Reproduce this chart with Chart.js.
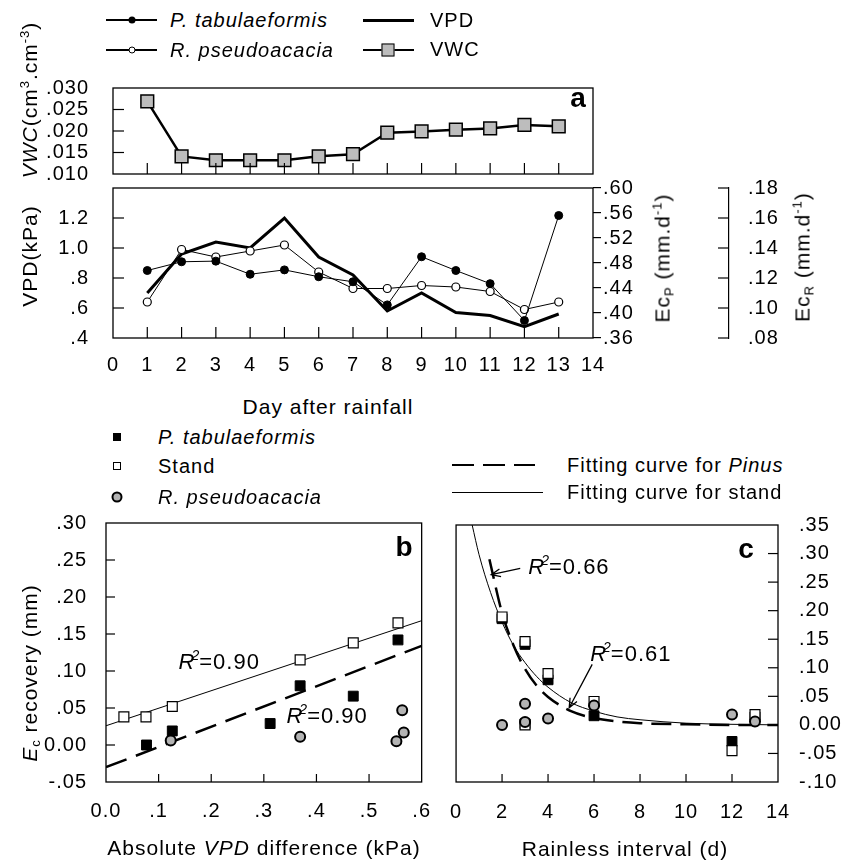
<!DOCTYPE html>
<html>
<head>
<meta charset="utf-8">
<title>Ec recovery after rainfall</title>
<script src="https://cdn.jsdelivr.net/npm/chart.js@4.4.1/dist/chart.umd.min.js"></script>
<style>
  body { margin: 0; background: #fff; }
  #fig { position: relative; width: 856px; height: 862px; overflow: hidden;
         font-family: "Liberation Sans", Arial, Helvetica, sans-serif; color: #000; letter-spacing: 1px; }
  #fig canvas { position: absolute; }
  .t { position: absolute; white-space: nowrap; font-size: 20px; line-height: 1; }
  .l { transform: translateY(-50%); }
  .c { transform: translate(-50%, -50%); }
  .v { transform: translate(-50%, -50%) rotate(-90deg); font-size: 21px; }
  .big { font-size: 21px; }
  .let { font-size: 28px; font-weight: bold; letter-spacing: 0; }
  sup { font-size: 0.62em; vertical-align: 0.6em; line-height: 0; }
  sub { font-size: 0.62em; vertical-align: -0.3em; line-height: 0; }
  .ln { position: absolute; }
  .mk { position: absolute; box-sizing: border-box; transform: translate(-50%, -50%); border: 0 solid #000; }
</style>
</head>
<body>
<div id="fig">
  <canvas id="cVwc" width="856" height="142" style="left:0;top:60px;width:856px;height:142px"></canvas>
  <canvas id="cVpd" width="856" height="220" style="left:0;top:160px;width:856px;height:220px"></canvas>
  <canvas id="cB" width="440" height="362" style="left:0;top:500px;width:440px;height:362px"></canvas>
  <canvas id="cC" width="416" height="362" style="left:440px;top:500px;width:416px;height:362px"></canvas>
</div>
<script>
// ---- panel a: days after rainfall
var days = [1, 2, 3, 4, 5, 6, 7, 8, 9, 10, 11, 12, 13];
var vwc = [.0269, .0141, .0132, .0132, .0132, .0141, .0146, .0196, .0199, .0203, .0206, .0214, .0211];
var vpd = [.70, .96, 1.04, 1.00, 1.20, .94, .82, .58, .70, .57, .55, .475, .56];
var ecP = [.468, .482, .483, .462, .469, .458, .450, .413, .490, .468, .447, .388, .556];
var ecR = [.104, .139, .134, .138, .142, .124, .113, .113, .115, .114, .111, .099, .104];

// ---- panel b: Ec recovery vs absolute VPD difference
var bPinusX = [.077, .126, .312, .369, .470, .555];
var bPinusY = [.000, .019, .029, .080, .066, .142];
var bStandX = [.034, .076, .126, .369, .470, .555];
var bStandY = [.038, .038, .052, .115, .138, .165];
var bRobX = [.123, .369, .552, .563, .566];
var bRobY = [.006, .011, .005, .047, .017];
var bFitX = [0, .6];
var bFitStand = [.026, .168];
var bFitPinus = [-.030, .134];

// ---- panel c: Ec recovery vs rainless interval
var cStandX = [2, 3, 3, 4, 6, 12, 13];
var cStandY = [.189, .146, .000, .090, .041, -.045, .018];
var cPinusX = [2, 3, 3, 4, 6, 12, 13];
var cPinusY = [.186, .141, .002, .079, .016, -.029, .014];
var cRobX = [2, 3, 3, 4, 6, 12, 13];
var cRobY = [.000, .037, .005, .011, .034, .018, .006];
var cFitStandX = [0.7, 1, 1.5, 2, 2.5, 3, 3.5, 4, 5, 6, 7, 8, 10, 12, 14];
var cFitStandY = [.350, .298, .232, .180, .139, .109, .085, .066, .039, .024, .014, .009, .003, .001, .000];
var cFitPinusX = [1.45, 2, 2.5, 3, 3.5, 4, 5, 6, 7, 8, 10, 12, 14];
var cFitPinusY = [.290, .196, .139, .098, .069, .049, .024, .012, .006, .003, .001, .000, .000];

// R2 labels (data units, text baseline) and arrows
var bNoteX = [.138, .343], bNoteY = [.103, .030], bNoteText = ['=0.90', '=0.90'];
var cNoteX = [3.14, 5.83], cNoteY = [.265, .112], cNoteText = ['=0.66', '=0.61'];
var cArrowFromX = [2.79, 5.92], cArrowFromY = [.274, .106];
var cArrowToX = [1.53, 4.92], cArrowToY = [.263, .030];

var FAM = '"Liberation Sans", Arial, Helvetica, sans-serif';
Chart.defaults.font.family = FAM;
Chart.defaults.font.size = 20;
Chart.defaults.color = '#000';
Chart.defaults.animation = false;
Chart.defaults.responsive = false;
Chart.defaults.plugins.legend.display = false;
Chart.defaults.plugins.tooltip.enabled = false;

function pts(xs, ys) {
  return xs.map(function (x, i) { return { x: x, y: ys[i] }; });
}

function lab(d, hideAbove) {
  return function (v) {
    if (hideAbove !== undefined && v > hideAbove) return '';
    if (Math.abs(v) < 1e-9) return (0).toFixed(d);
    var s = v.toFixed(d);
    return Math.abs(v) < 1 ? s.replace('0.', '.') : s;
  };
}

function axis(min, max, step, fmt, pad, size, extra) {
  var s = {
    type: 'linear', min: min, max: max,
    grid: { display: false },
    border: { display: false },
    ticks: { stepSize: step, callback: fmt, autoSkip: false, maxRotation: 0, padding: pad },
    afterFit: function (sc) {
      if (sc.isHorizontal()) sc.height = size; else sc.width = size;
    }
  };
  for (var k in extra) s[k] = extra[k];
  return s;
}

var spacing = {
  id: 'spacing',
  beforeUpdate: function (c) { c.ctx.letterSpacing = '1px'; },
  beforeDraw: function (c) { c.ctx.letterSpacing = '1px'; }
};

var frame = {
  id: 'frame',
  afterDatasetsDraw: function (chart) {
    var a = chart.chartArea, ctx = chart.ctx;
    ctx.save();
    ctx.strokeStyle = '#000';
    ctx.lineWidth = 1.3;
    ctx.strokeRect(a.left, a.top, a.right - a.left, a.bottom - a.top);
    ctx.restore();
  }
};

// short tick marks drawn inside the frame (or beside a free axis line)
var tickMarks = {
  id: 'tickMarks',
  afterDatasetsDraw: function (chart, args, opts) {
    var ctx = chart.ctx, a = chart.chartArea;
    ctx.save();
    ctx.strokeStyle = '#000';
    ctx.lineWidth = 1.2;
    (opts.marks || []).forEach(function (m) {
      var s = chart.scales[m.id];
      var hor = s.isHorizontal();
      var base = m.edge === 'bottom' ? a.bottom : m.edge === 'left' ? a.left : m.edge === 'right' ? a.right : s.left;
      s.ticks.forEach(function (t) {
        var p = s.getPixelForValue(t.value);
        var lo = hor ? a.left : a.top, hi = hor ? a.right : a.bottom;
        if (!m.ends && (Math.abs(p - lo) < 1 || Math.abs(p - hi) < 1)) return;
        ctx.beginPath();
        if (hor) { ctx.moveTo(p, base); ctx.lineTo(p, base + m.len); }
        else { ctx.moveTo(base, p); ctx.lineTo(base + m.len, p); }
        ctx.stroke();
      });
    });
    ctx.restore();
  }
};

function drawR2(ctx, x, y, rest) {
  ctx.save();
  ctx.fillStyle = '#000';
  ctx.textAlign = 'left';
  ctx.textBaseline = 'alphabetic';
  ctx.letterSpacing = '1px';
  ctx.font = 'italic 22px ' + FAM;
  ctx.fillText('R', x, y);
  var w = ctx.measureText('R').width;
  ctx.font = 'italic 14px ' + FAM;
  ctx.fillText('2', x + w - 4, y - 9);
  var w2 = ctx.measureText('2').width;
  ctx.font = '22px ' + FAM;
  ctx.fillText(rest, x + w + w2 - 5, y);
  ctx.restore();
}

var notes = {
  id: 'notes',
  afterDatasetsDraw: function (chart, args, opts) {
    var ctx = chart.ctx, sx = chart.scales.x, sy = chart.scales.y;
    var n = opts.x || [];
    for (var i = 0; i < n.length; i++) {
      drawR2(ctx, sx.getPixelForValue(opts.x[i]), sy.getPixelForValue(opts.y[i]), opts.text[i]);
    }
    var f = opts.fromX || [];
    ctx.save();
    ctx.strokeStyle = '#000';
    ctx.lineWidth = 1.3;
    for (var j = 0; j < f.length; j++) {
      var x1 = sx.getPixelForValue(opts.fromX[j]), y1 = sy.getPixelForValue(opts.fromY[j]);
      var x2 = sx.getPixelForValue(opts.toX[j]), y2 = sy.getPixelForValue(opts.toY[j]);
      var ang = Math.atan2(y2 - y1, x2 - x1), h = 10;
      ctx.beginPath();
      ctx.moveTo(x1, y1); ctx.lineTo(x2, y2);
      ctx.moveTo(x2 - h * Math.cos(ang - .4), y2 - h * Math.sin(ang - .4));
      ctx.lineTo(x2, y2);
      ctx.lineTo(x2 - h * Math.cos(ang + .4), y2 - h * Math.sin(ang + .4));
      ctx.stroke();
    }
    ctx.restore();
  }
};

Chart.register(spacing, frame, tickMarks, notes);

// ---- panel a, top: VWC
new Chart(document.getElementById('cVwc'), {
  type: 'scatter',
  data: {
    datasets: [{
      data: pts(days, vwc), showLine: true, borderColor: '#000', borderWidth: 2.5,
      pointStyle: 'rect', pointRadius: 9, pointBackgroundColor: '#bdbdbd',
      pointBorderColor: '#000', pointBorderWidth: 1.5
    }]
  },
  options: {
    layout: { padding: { top: 17, right: 263, left: 0, bottom: 0 } },
    scales: {
      x: axis(0, 14, 1, lab(0), 0, 14, { ticks: { display: false, stepSize: 1 } }),
      y: axis(.010, .030, .005, lab(3), 16, 113)
    },
    plugins: { tickMarks: { marks: [{ id: 'x', edge: 'bottom', len: -11 }, { id: 'y', edge: 'left', len: 11 }] } }
  }
});

// ---- panel a, bottom: VPD with Ec of both species
new Chart(document.getElementById('cVpd'), {
  type: 'scatter',
  data: {
    datasets: [{
      data: pts(days, ecP), yAxisID: 'yP', showLine: true, borderColor: '#000', borderWidth: 1,
      pointRadius: 4, pointBackgroundColor: '#000', pointBorderColor: '#000', pointBorderWidth: 1
    }, {
      data: pts(days, ecR), yAxisID: 'yR', showLine: true, borderColor: '#000', borderWidth: 1,
      pointRadius: 4, pointBackgroundColor: '#fff', pointBorderColor: '#000', pointBorderWidth: 1.2
    }, {
      data: pts(days, vpd), yAxisID: 'y', showLine: true, borderColor: '#000', borderWidth: 3,
      pointRadius: 0
    }]
  },
  options: {
    layout: { padding: { top: 28, right: 0, left: 0, bottom: 0 } },
    scales: {
      x: axis(0, 14, 1, lab(0), 7, 42),
      y: axis(.4, 1.4, .2, lab(1, 1.3), 16, 113, { position: 'left' }),
      yP: axis(.36, .60, .04, lab(2), 2, 136, {
        position: 'right', weight: 0,
        grid: { display: true, drawOnChartArea: false, drawTicks: true, tickLength: 8, color: '#000', lineWidth: 1.2 }
      }),
      yR: axis(.08, .18, .02, lab(2), 11, 127, {
        position: 'right', weight: 1,
        border: { display: true, color: '#000', width: 1.2 }
      })
    },
    plugins: {
      tickMarks: { marks: [
        { id: 'x', edge: 'bottom', len: -11 },
        { id: 'y', edge: 'left', len: 11 },
        { id: 'yR', edge: 'axis', len: -11, ends: true }
      ] }
    }
  }
});

// ---- panel b
new Chart(document.getElementById('cB'), {
  type: 'scatter',
  data: {
    datasets: [{
      data: pts(bRobX, bRobY), pointStyle: 'circle', pointRadius: 5,
      pointBackgroundColor: '#b4b4b4', pointBorderColor: '#000', pointBorderWidth: 2
    }, {
      data: pts(bStandX, bStandY), pointStyle: 'rect', pointRadius: 7,
      pointBackgroundColor: '#fff', pointBorderColor: '#000', pointBorderWidth: 1.2
    }, {
      data: pts(bPinusX, bPinusY), pointStyle: 'rect', pointRadius: 7,
      pointBackgroundColor: '#000', pointBorderColor: '#000', pointBorderWidth: 1
    }, {
      data: pts(bFitX, bFitPinus), showLine: true, pointRadius: 0,
      borderColor: '#000', borderWidth: 2.5, borderDash: [22, 10]
    }, {
      data: pts(bFitX, bFitStand), showLine: true, pointRadius: 0,
      borderColor: '#000', borderWidth: 1
    }]
  },
  options: {
    layout: { padding: { top: 22, right: 12, left: 0, bottom: 0 } },
    scales: {
      x: axis(0, .6, .1, lab(1), 9, 80),
      y: axis(-.05, .30, .05, lab(2), 11, 106)
    },
    plugins: {
      tickMarks: { marks: [{ id: 'x', edge: 'bottom', len: -8 }, { id: 'y', edge: 'left', len: 9 }] },
      notes: { x: bNoteX, y: bNoteY, text: bNoteText }
    }
  }
});

// ---- panel c
new Chart(document.getElementById('cC'), {
  type: 'scatter',
  data: {
    datasets: [{
      data: pts(cRobX, cRobY), pointStyle: 'circle', pointRadius: 5,
      pointBackgroundColor: '#b4b4b4', pointBorderColor: '#000', pointBorderWidth: 2
    }, {
      data: pts(cStandX, cStandY), pointStyle: 'rect', pointRadius: 7,
      pointBackgroundColor: '#fff', pointBorderColor: '#000', pointBorderWidth: 1.2
    }, {
      data: pts(cPinusX, cPinusY), pointStyle: 'rect', pointRadius: 7,
      pointBackgroundColor: '#000', pointBorderColor: '#000', pointBorderWidth: 1
    }, {
      data: pts(cFitPinusX, cFitPinusY), showLine: true, pointRadius: 0, cubicInterpolationMode: 'monotone',
      borderColor: '#000', borderWidth: 2.5, borderDash: [20, 9]
    }, {
      data: pts(cFitStandX, cFitStandY), showLine: true, pointRadius: 0, cubicInterpolationMode: 'monotone',
      borderColor: '#000', borderWidth: 1
    }]
  },
  options: {
    layout: { padding: { top: 22, right: 0, left: 16, bottom: 0 } },
    scales: {
      x: axis(0, 14, 2, lab(0), 10, 80),
      y: axis(-.10, .35, .05, lab(2), 13, 78, { position: 'right' })
    },
    plugins: {
      tickMarks: { marks: [{ id: 'x', edge: 'bottom', len: -8 }, { id: 'y', edge: 'right', len: -10 }] },
      notes: {
        x: cNoteX, y: cNoteY, text: cNoteText,
        fromX: cArrowFromX, fromY: cArrowFromY, toX: cArrowToX, toY: cArrowToY
      }
    }
  }
});

// ---- titles, legends, panel letters
var fig = document.getElementById('fig');
function text(html, x, y, cls) {
  var d = document.createElement('div');
  d.className = 't ' + cls;
  d.style.left = x + 'px';
  d.style.top = y + 'px';
  d.innerHTML = html;
  fig.appendChild(d);
}
function rule(x1, x2, y, w, dash) {
  var d = document.createElement('div');
  d.className = 'ln';
  d.style.left = x1 + 'px';
  d.style.width = (x2 - x1) + 'px';
  d.style.top = (y - w / 2) + 'px';
  d.style.height = w + 'px';
  d.style.background = dash ? 'repeating-linear-gradient(to right,#000 0 22px,transparent 22px 31px)' : '#000';
  fig.appendChild(d);
}
function mark(x, y, size, fill, bw, round) {
  var d = document.createElement('div');
  d.className = 'mk';
  d.style.left = x + 'px';
  d.style.top = y + 'px';
  d.style.width = size + 'px';
  d.style.height = size + 'px';
  d.style.background = fill;
  d.style.borderWidth = bw + 'px';
  if (round) d.style.borderRadius = '50%';
  fig.appendChild(d);
}

// top legend
rule(106, 157, 20, 1.3); mark(132, 20, 7, '#000', 0, true);
text('<i>P. tabulaeformis</i>', 170, 20, 'l');
rule(106, 157, 50, 1.3); mark(132, 50, 7, '#fff', 1, true);
text('<i>R. pseudoacacia</i>', 170, 50, 'l');
rule(363, 414, 20, 3);
text('VPD', 430, 20, 'l');
rule(363, 414, 50, 2.5); mark(388, 50, 13, '#bdbdbd', 1.5, false);
text('VWC', 430, 49, 'l');

// panel a titles
text('<i>VWC</i>(cm<sup>3</sup>.cm<sup>-3</sup>)', 29, 100, 'v');
text('VPD(kPa)', 29, 256, 'v');
text('Ec<sub>P</sub> (mm.d<sup>-1</sup>)', 662, 258, 'v');
text('Ec<sub>R</sub> (mm.d<sup>-1</sup>)', 802, 257, 'v');
text('Day after rainfall', 328, 406, 'c big');
text('a', 578, 98, 'c let');

// panel b legend
mark(117, 437, 8, '#000', 0, false);
text('<i>P. tabulaeformis</i>', 158, 437, 'l');
mark(117, 466, 8, '#fff', 1, false);
text('Stand', 158, 466, 'l');
mark(117, 497, 11, '#b4b4b4', 2, true);
text('<i>R. pseudoacacia</i>', 158, 497, 'l');

// panel c legend
rule(452, 535, 465, 2.5, true);
text('Fitting curve for <i>Pinus</i>', 567, 465, 'l');
rule(452, 543, 492, 1);
text('Fitting curve for stand', 567, 492, 'l');

// panel b and c titles
text('<i>E</i><sub>c</sub> recovery (mm)', 29, 673, 'v');
text('Absolute <i>VPD</i> difference (kPa)', 264, 847, 'c big');
text('Rainless interval (d)', 625, 848, 'c big');
text('b', 404, 547, 'c let');
text('c', 746, 549, 'c let');
</script>
</body>
</html>
